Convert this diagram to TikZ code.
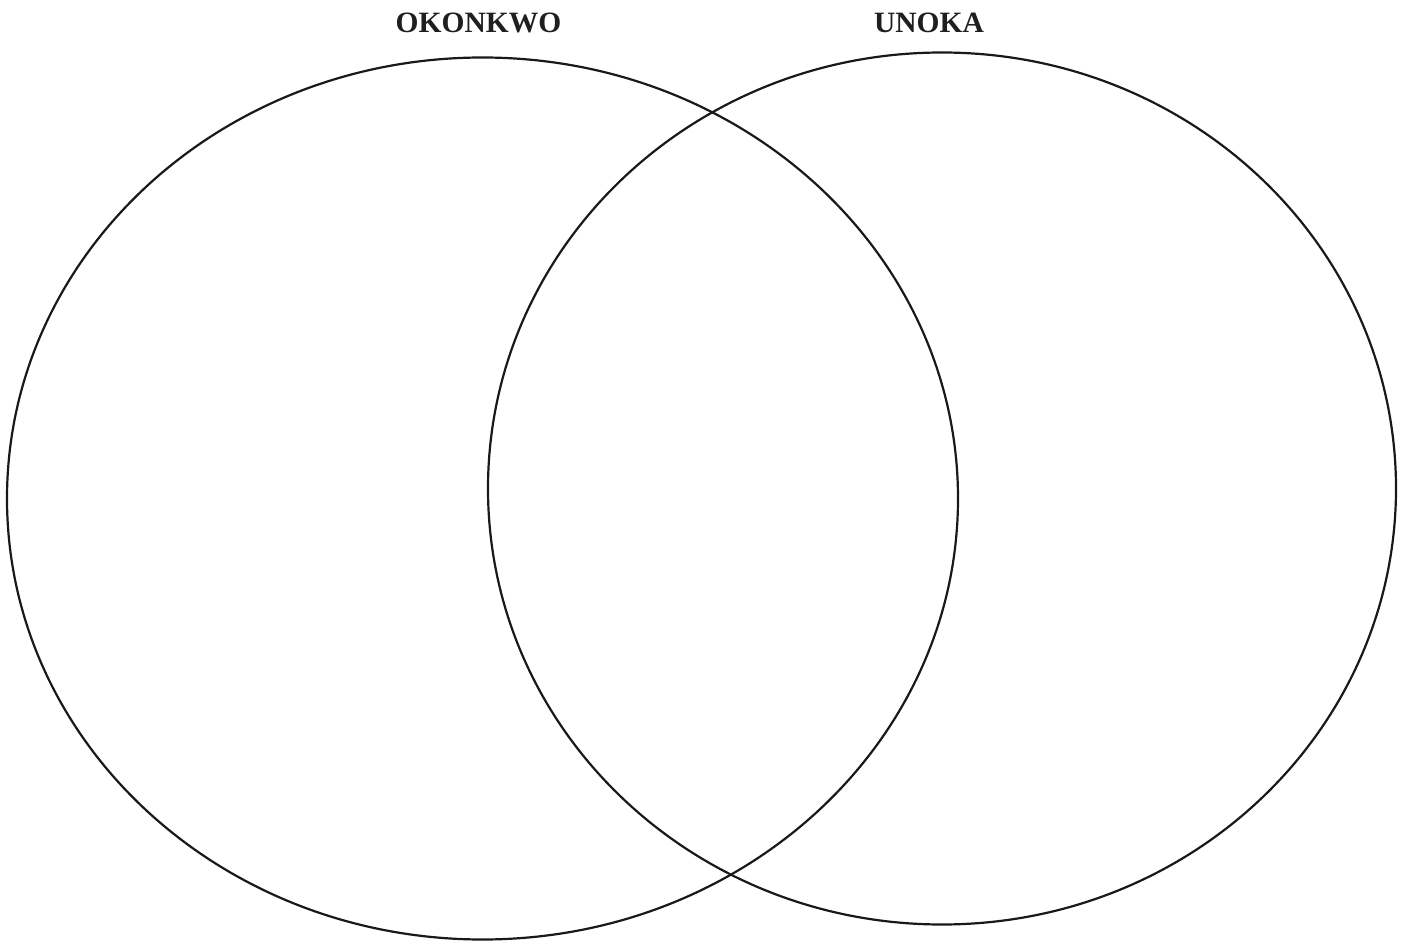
\documentclass[tikz,border=0pt]{standalone}
\usepackage{fontspec}
\setmainfont{Liberation Serif}
\begin{document}
\begin{tikzpicture}[x=1pt,y=-1pt,
  circ/.style={draw=black!90,line width=2.2pt},
  lab/.style={font=\fontsize{29.5}{34}\selectfont\bfseries,text=black!88,anchor=base,inner sep=0pt}]
\useasboundingbox (0,0) rectangle (1403,941);
\draw[circ] (482.5,498.5) ellipse [x radius=475.5, y radius=441];
\draw[circ] (942,488.5) ellipse [x radius=454, y radius=436];
\node[lab] (okonkwo) at (478.5,33) {OKONKWO};
\node[lab] (unoka) at (929,33) {UNOKA};
\end{tikzpicture}
\end{document}
